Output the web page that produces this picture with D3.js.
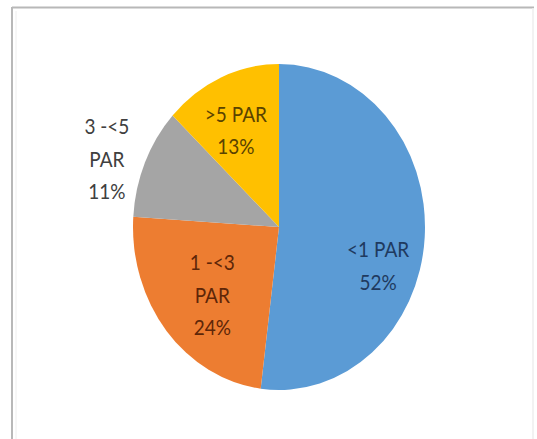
<!DOCTYPE html>
<html>
<head>
<meta charset="utf-8">
<script src="https://cdn.jsdelivr.net/npm/d3@7"></script>
<style>
  html, body { margin: 0; padding: 0; background: #fff; }
  svg { display: block; }
</style>
</head>
<body>
<svg id="chart" width="537" height="439"></svg>
<script>
const categories = ["<1 PAR", "1 -<3 PAR", "3 -<5 PAR", ">5 PAR"];
const values = [52, 24, 11, 13];
const labelLines = [["<1 PAR", "52%"], ["1 -<3", "PAR", "24%"], ["3 -<5", "PAR", "11%"], [">5 PAR", "13%"]];
const colors = ["#5B9BD5", "#ED7D31", "#A5A5A5", "#FFC000"];
const labelColors = ["#1F3A5F", "#5E2608", "#404040", "#5A4300"];

// label layout: radius fraction and angle offset (deg) from slice mid-angle
const labelRadius = [0.72, 0.62, 1.25, 0.66];
const labelAngleOffset = [15.9, -2.9, -4, -3.2];

const svg = d3.select("#chart");

// frame
svg.append("line").attr("x1", 12).attr("y1", 7.5).attr("x2", 534).attr("y2", 7.5)
  .attr("stroke", "#b8b8b8").attr("stroke-width", 2);
svg.append("line").attr("x1", 12).attr("y1", 7).attr("x2", 12).attr("y2", 439)
  .attr("stroke", "#b8b8b8").attr("stroke-width", 2);
svg.append("line").attr("x1", 16).attr("y1", 11).attr("x2", 16).attr("y2", 439)
  .attr("stroke", "#eeeeee").attr("stroke-width", 1);
svg.append("line").attr("x1", 533).attr("y1", 8).attr("x2", 533).attr("y2", 439)
  .attr("stroke", "#eeeeee").attr("stroke-width", 1.5);

const cx = 279, cy = 227, r = 146, sy = 163 / 146;

const g = svg.append("g").attr("transform", `translate(${cx},${cy}) scale(1,${sy})`);

const pie = d3.pie().sort(null).value(d => d.v);
const arcs = pie(categories.map((c, i) => ({ c, v: values[i], i })));
const arc = d3.arc().innerRadius(0).outerRadius(r);

g.selectAll("path.slice").data(arcs).enter().append("path")
  .attr("class", "slice")
  .attr("d", arc)
  .attr("fill", d => colors[d.data.i]);

const lineH = 29;

arcs.forEach(d => {
  const i = d.data.i;
  const a = (d.startAngle + d.endAngle) / 2 + labelAngleOffset[i] * Math.PI / 180;
  const rr = r * labelRadius[i];
  const x = rr * Math.sin(a), y = -rr * Math.cos(a);
  const lines = labelLines[i];
  const t = g.append("text")
    .attr("text-anchor", "middle")
    .attr("font-family", "Lato, 'Open Sans', sans-serif")
    .attr("font-size", 19)
    .attr("fill", labelColors[i]);
  lines.forEach((ln, k) => {
    t.append("tspan")
      .attr("x", x)
      .attr("y", y + (k - (lines.length - 1) / 2) * lineH)
      .attr("dy", "0.35em")
      .text(ln);
  });
});
</script>
</body>
</html>
